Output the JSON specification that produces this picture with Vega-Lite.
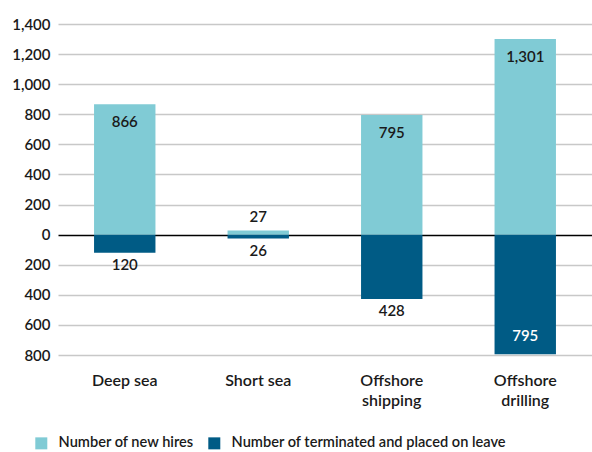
{
  "$schema": "https://vega.github.io/schema/vega-lite/v6.json",
  "width": 534,
  "height": 331,
  "autosize": {"type": "none"},
  "padding": {"left": 58, "top": 24, "right": 0, "bottom": 97},
  "config": {
    "view": {"stroke": null},
    "font": "Lato",
    "axis": {"labelFont": "Lato", "labelFontSize": 15, "labelFontWeight": 600, "labelColor": "#1a1a1a"},
    "legend": {"labelFont": "Lato", "labelFontSize": 14.6, "labelFontWeight": 600, "labelColor": "#1a1a1a"}
  },
  "data": {
    "values": [
      {"segment": "Deep sea", "series": "Number of new hires", "value": 866},
      {"segment": "Deep sea", "series": "Number of terminated and placed on leave", "value": -120},
      {"segment": "Short sea", "series": "Number of new hires", "value": 27},
      {"segment": "Short sea", "series": "Number of terminated and placed on leave", "value": -26},
      {"segment": "Offshore shipping", "series": "Number of new hires", "value": 795},
      {"segment": "Offshore shipping", "series": "Number of terminated and placed on leave", "value": -428},
      {"segment": "Offshore drilling", "series": "Number of new hires", "value": 1301},
      {"segment": "Offshore drilling", "series": "Number of terminated and placed on leave", "value": -795}
    ]
  },
  "encoding": {
    "x": {
      "field": "segment", "type": "nominal",
      "sort": ["Deep sea", "Short sea", "Offshore shipping", "Offshore drilling"],
      "scale": {"paddingInner": 0.54, "paddingOuter": 0.27},
      "axis": {
        "title": null, "domain": false, "ticks": false, "labelAngle": 0,
        "labelFontSize": 16,
        "labelPadding": 17, "labelLineHeight": 20, "labelBaseline": "top", "labelOverlap": false,
        "labelExpr": "indexof(datum.label, 'Offshore') == 0 ? split(datum.label, ' ') : datum.label"
      }
    },
    "y": {
      "field": "value", "type": "quantitative", "stack": null,
      "scale": {"domain": [-800, 1400], "nice": false},
      "axis": {
        "title": null, "domain": false, "ticks": false, "labelOverlap": false,
        "values": [-800, -600, -400, -200, 0, 200, 400, 600, 800, 1000, 1200, 1400],
        "labelExpr": "format(abs(datum.value), ',')",
        "labelPadding": 8,
        "grid": true,
        "gridColor": {"condition": {"test": "datum.value === 0", "value": "#000000"}, "value": "#c8c8c8"},
        "gridWidth": {"condition": {"test": "datum.value === 0", "value": 1.5}, "value": 1.3}
      }
    }
  },
  "layer": [
    {
      "mark": {"type": "bar"},
      "encoding": {
        "color": {
          "field": "series", "type": "nominal",
          "scale": {
            "domain": ["Number of new hires", "Number of terminated and placed on leave"],
            "range": ["#80CBD5", "#005B85"]
          },
          "legend": {
            "title": null, "orient": "none", "direction": "horizontal",
            "legendX": -24, "legendY": 412,
            "symbolType": "square", "symbolSize": 144, "symbolStrokeWidth": 0,
            "labelOffset": 10, "columnPadding": 12, "labelLimit": 400
          }
        }
      }
    },
    {
      "transform": [{"filter": "datum.value > 100"}],
      "mark": {"type": "text", "baseline": "middle", "dy": 18, "fontSize": 15, "fontWeight": 600, "color": "#1a1a1a", "text": {"expr": "format(abs(datum.value), ',')"}}
    },
    {
      "transform": [{"filter": "datum.value > 0 && datum.value <= 100"}],
      "mark": {"type": "text", "baseline": "middle", "dy": -14, "fontSize": 15, "fontWeight": 600, "color": "#1a1a1a", "text": {"expr": "format(abs(datum.value), ',')"}}
    },
    {
      "transform": [{"filter": "datum.value < 0 && datum.value > -500"}],
      "mark": {"type": "text", "baseline": "middle", "dy": 12, "fontSize": 15, "fontWeight": 600, "color": "#1a1a1a", "text": {"expr": "format(abs(datum.value), ',')"}}
    },
    {
      "transform": [{"filter": "datum.value <= -500"}],
      "mark": {"type": "text", "baseline": "middle", "dy": -18, "fontSize": 15, "fontWeight": 600, "color": "#ffffff", "text": {"expr": "format(abs(datum.value), ',')"}}
    }
  ]
}
